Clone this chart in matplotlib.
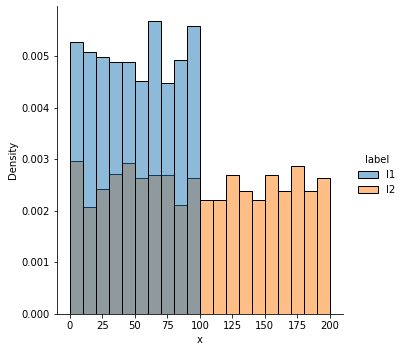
import matplotlib
matplotlib.use("Agg")
import matplotlib.pyplot as plt
import numpy as np
from matplotlib.patches import Patch
from matplotlib.colors import to_rgba

bin_edges = list(range(0, 210, 10))
l1_density = [0.00528, 0.005085, 0.00499, 0.00489, 0.00489, 0.00452, 0.00569, 0.00449, 0.00493, 0.00559]
l2_density = [0.00297, 0.00207, 0.00243, 0.00272, 0.00292, 0.00263, 0.00269, 0.00269, 0.00212, 0.00263,
              0.00221, 0.00221, 0.00269, 0.00238, 0.00221, 0.00269, 0.00238, 0.00288, 0.00238, 0.00263]
x_ticks = [0, 25, 50, 75, 100, 125, 150, 175, 200]
y_ticks = [0.000, 0.001, 0.002, 0.003, 0.004, 0.005]
labels = ["l1", "l2"]
colors = ["#1f77b4", "#ff7f0e"]

fig = plt.figure(figsize=(403/72, 352/72), dpi=72)
ax = fig.add_axes([57/403, 1-314/352, (342.7-57)/403, (314-6)/352])

edges = np.array(bin_edges, dtype=float)
# l2 drawn first (below), l1 on top
ax.bar(edges[:len(l2_density)], l2_density, width=10, align="edge",
       facecolor=to_rgba(colors[1], 0.5), edgecolor="black", linewidth=1)
ax.bar(edges[:len(l1_density)], l1_density, width=10, align="edge",
       facecolor=to_rgba(colors[0], 0.5), edgecolor="black", linewidth=1)

ax.set_xlim(-10, 210)
ax.set_ylim(0, max(l1_density) * 1.05)
ax.set_xticks(x_ticks)
ax.set_yticks(y_ticks)
ax.set_yticklabels([f"{v:.3f}" for v in y_ticks])
ax.set_xlabel("x")
ax.set_ylabel("Density")
ax.spines["top"].set_visible(False)
ax.spines["right"].set_visible(False)

handles = [Patch(facecolor=to_rgba(c, 0.5), edgecolor="black") for c in colors]
leg = fig.legend(handles, labels, title="label", frameon=False,
                 loc="center left", bbox_to_anchor=(349/403, 1-175/352))

fig.savefig("out.png", dpi=72)
